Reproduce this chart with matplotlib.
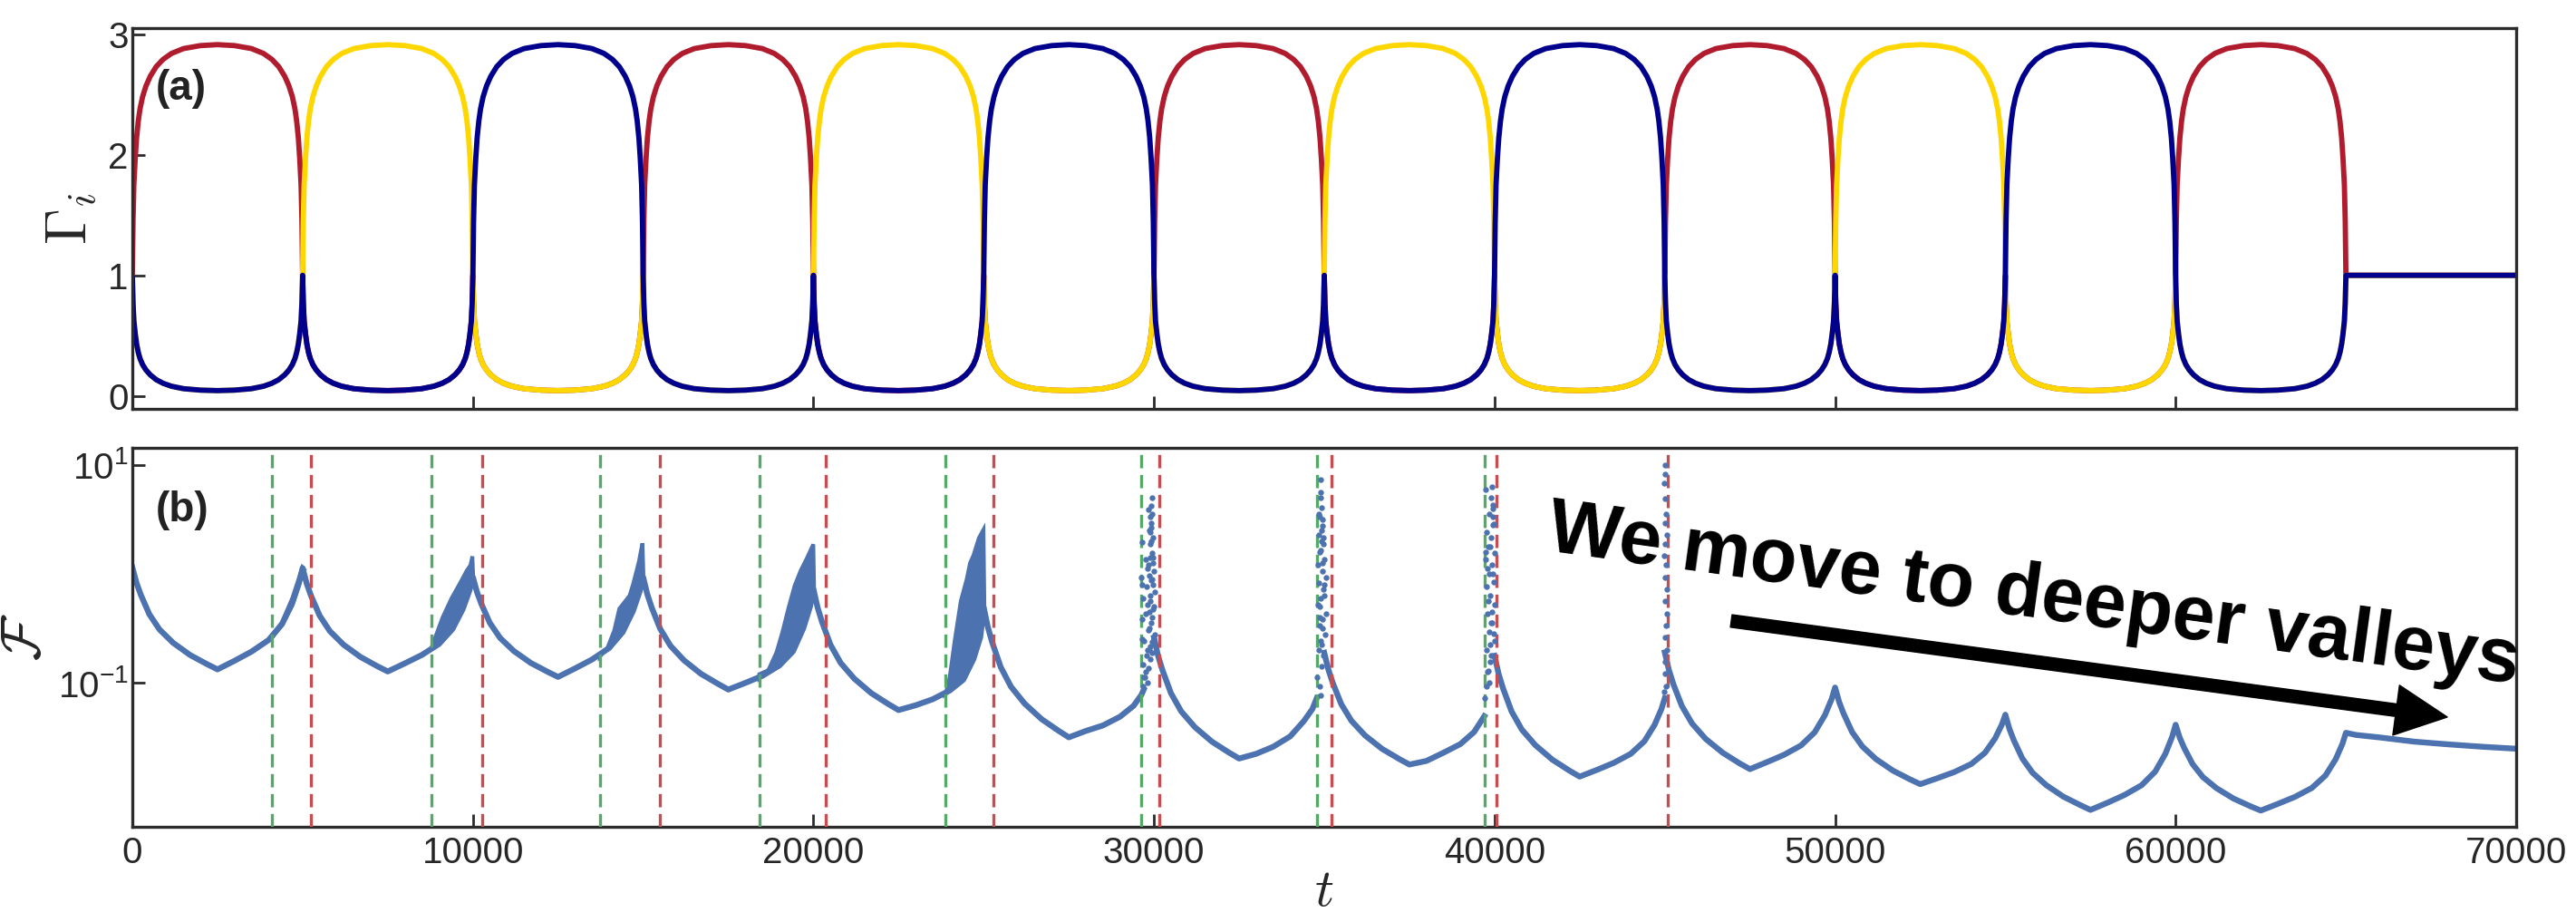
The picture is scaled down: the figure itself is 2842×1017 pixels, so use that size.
import numpy as np
import matplotlib
matplotlib.use("Agg")
import matplotlib.pyplot as plt

plt.rcParams['font.family'] = ['Liberation Sans', 'DejaVu Sans']
plt.rcParams['mathtext.fontset'] = 'cm'

INK = '#262626'

# ---------------- panel (a): Gamma_i during one switching period ----------------
PERIOD = 5000
phase = [0, 0.004, 0.009, 0.017, 0.025, 0.035, 0.045, 0.06, 0.08, 0.105, 0.14, 0.18,
         0.23, 0.3, 0.4, 0.5, 0.6, 0.7, 0.77, 0.82, 0.86, 0.895, 0.92, 0.94, 0.955,
         0.965, 0.975, 0.983, 0.991, 0.996, 1.0]
gamma_high = [1.0, 1.45, 1.75, 1.97, 2.14, 2.28, 2.38, 2.48, 2.57, 2.65, 2.73, 2.79,
              2.84, 2.88, 2.905, 2.913, 2.905, 2.88, 2.84, 2.79, 2.73, 2.65, 2.57, 2.48,
              2.38, 2.28, 2.14, 1.97, 1.75, 1.45, 1.0]
gamma_low = [1.0, 0.77, 0.62, 0.515, 0.43, 0.36, 0.31, 0.26, 0.215, 0.175, 0.135, 0.105,
             0.08, 0.06, 0.048, 0.044, 0.048, 0.06, 0.08, 0.105, 0.135, 0.175, 0.215, 0.26,
             0.31, 0.36, 0.43, 0.515, 0.62, 0.77, 1.0]
# which component is high in each period (0-65000)
high_component = ['red', 'yellow', 'blue'] * 4 + ['red']
t_settled = [65000, 70000]
gamma_settled = [1.0, 1.0]
gamma_colors = {'red': '#B01C2E', 'yellow': '#FFD700', 'blue': '#00008C'}

# ---------------- panel (b): F(t), log10 values ----------------
desc_dt = [0, 120, 250, 500, 800, 1200, 1700, 2200, 2500]
desc_log10F = [
    [0.06, -0.080, -0.193, -0.371, -0.511, -0.633, -0.745, -0.829, -0.876],
    [0.053, -0.089, -0.203, -0.383, -0.525, -0.649, -0.762, -0.848, -0.895],
    [-0.03, -0.167, -0.277, -0.451, -0.588, -0.707, -0.817, -0.899, -0.945],
    [-0.03, -0.185, -0.308, -0.504, -0.659, -0.793, -0.917, -1.009, -1.061],
    [-0.14, -0.306, -0.439, -0.650, -0.817, -0.961, -1.094, -1.194, -1.249],
    [-0.307, -0.486, -0.629, -0.855, -1.034, -1.189, -1.332, -1.439, -1.499],
    [-0.585, -0.751, -0.884, -1.095, -1.261, -1.405, -1.538, -1.638, -1.693],
    [-0.723, -0.877, -1.000, -1.195, -1.348, -1.482, -1.605, -1.697, -1.748],
    [-0.751, -0.917, -1.050, -1.261, -1.427, -1.571, -1.704, -1.804, -1.859],
    [-0.720, -0.881, -1.010, -1.211, -1.372, -1.513, -1.640, -1.738, -1.790],
    [-1.042, -1.175, -1.281, -1.450, -1.582, -1.698, -1.804, -1.884, -1.928],
    [-1.291, -1.422, -1.527, -1.693, -1.824, -1.937, -2.042, -2.120, -2.164],
    [-1.383, -1.501, -1.595, -1.745, -1.863, -1.965, -2.060, -2.131, -2.170],
]
std_rise = [0, 500, 1000, 1500, 1900, 2200, 2400, 2500]
rise_dt = [std_rise] * 5 + [
    [0, 500, 1000, 1500, 1900, 2130, 2200],
    [0, 500, 1000, 1500, 1900, 2150, 2280],
    [0, 500, 1000, 1500, 1900, 2200],
] + [std_rise] * 5
rise_log10F = [
    [-0.876, -0.797, -0.713, -0.607, -0.458, -0.263, -0.077, 0.053],
    [-0.895, -0.821, -0.744, -0.644, -0.506, -0.324, -0.151, -0.03],
    [-0.945, -0.867, -0.785, -0.680, -0.533, -0.341, -0.158, -0.03],
    [-1.061, -1.000, -0.935, -0.840, -0.710, -0.500, -0.300, -0.14],
    [-1.249, -1.205, -1.150, -1.070, -0.970, -0.780, -0.580, -0.307],
    [-1.499, -1.440, -1.390, -1.310, -1.210, -1.110, -1.060],
    [-1.693, -1.650, -1.585, -1.490, -1.350, -1.240, -1.139],
    [-1.748, -1.715, -1.640, -1.560, -1.450, -1.305],
    [-1.859, -1.798, -1.733, -1.650, -1.535, -1.384, -1.240, -1.139],
    [-1.790, -1.726, -1.659, -1.573, -1.453, -1.296, -1.147, -1.042],
    [-1.928, -1.874, -1.817, -1.743, -1.641, -1.508, -1.380, -1.291],
    [-2.164, -2.098, -2.027, -1.938, -1.813, -1.649, -1.492, -1.383],
    [-2.170, -2.109, -2.045, -1.963, -1.849, -1.699, -1.557, -1.457],
]
broken_after_rise = [5, 6, 7, 8]
tail_t = [65000, 65300, 66000, 67000, 68000, 69000, 70000]
tail_log10F = [-1.457, -1.477, -1.500, -1.538, -1.563, -1.585, -1.603]

# noisy bands just before the cusps (upper edge, lower edge)
band_upper = [
    ([4100, 4400, 4700, 4900, 4990, 5010], [-0.585, -0.44, -0.22, -0.03, 0.06, 0.053]),
    ([8780, 8850, 9110, 9380, 9650, 9820, 9930, 9985, 10010],
     [-0.68, -0.62, -0.40, -0.22, -0.07, 0.03, 0.08, 0.16, -0.03]),
    ([13726, 13950, 14150, 14300, 14450, 14600, 14700, 14800, 14880, 14940, 14980, 15010],
     [-0.76, -0.68, -0.52, -0.32, -0.26, -0.20, -0.10, 0.02, 0.12, 0.22, 0.28, -0.03]),
    ([18410, 18650, 18915, 19093, 19270, 19447, 19625, 19802, 19935, 19997, 20020],
     [-0.96, -0.90, -0.72, -0.53, -0.31, -0.11, 0.03, 0.14, 0.23, 0.27, -0.14]),
    ([23883, 24000, 24150, 24327, 24500, 24600, 24700, 24860, 24993, 25020],
     [-1.10, -0.95, -0.61, -0.25, -0.05, 0.10, 0.17, 0.33, 0.405, -0.307]),
]
band_lower = [
    ([4100, 4400, 4700, 4900, 5000], [-0.585, -0.470, -0.290, -0.100, 0.053]),
    ([8780, 9000, 9400, 9700, 9900, 10000], [-0.688, -0.644, -0.506, -0.324, -0.151, -0.03]),
    ([13726, 14000, 14400, 14700, 14900, 15000], [-0.74, -0.680, -0.533, -0.341, -0.158, -0.03]),
    ([18410, 19000, 19400, 19700, 19900, 20000], [-0.92, -0.84, -0.71, -0.50, -0.30, -0.14]),
    ([23883, 24400, 24700, 24900, 25000], [-1.10, -0.97, -0.78, -0.58, -0.307]),
]

# scattered points around the later cusps
dots_t = [
    # near t = 30000
    29952, 29845, 29890, 29925, 29899, 29650, 29978, 29881, 29943, 29757, 29845, 30005,
    29632, 29917, 29792, 30032, 29685, 29881, 29978, 29757, 29650, 29917, 29828, 30014,
    29703, 29899, 29783, 29943, 29668, 29845, 29739, 29677, 29810, 29960, 29870, 29800,
    29930, 29905, 29990, 29860,
    29860, 29910, 29940, 29880, 29965, 29900, 29935, 29870, 29990, 29955, 29890, 29820,
    29760, 29700, 29640, 29660, 29920, 29975, 29850, 29800,
    # near t = 35000
    34885, 34902, 34929, 34867, 34956, 34840, 34973, 34885, 35009, 34813, 34938, 35044,
    34849, 34973, 34902, 34823, 35062, 34938, 34858, 35018, 34902, 34831, 34973, 34867,
    34885, 34920, 34990, 34950, 34870,
    34900, 34920, 34950, 34880, 34960, 34910, 34860, 34990, 34930, 34800, 34845, 34970,
    # near t = 40000
    39924, 39959, 39747, 39853, 39986, 39764, 39897, 39809, 40013, 39729, 39924, 39835,
    39977, 39764, 39871, 39995, 39800, 39924, 39853, 39995, 39764, 39906, 39817, 39764,
    39711, 39871, 39940, 39880, 39780,
    39900, 39940, 39870, 39960, 39830, 39900, 39990, 39780, 39850, 39920, 39960, 39740,
    # near t = 45000
    44999, 45017, 44981, 44999, 45035, 44999, 45052, 45017, 44981, 45035, 45017, 45052,
    44999, 45070, 45035, 44999, 45052, 45017, 44999, 45035, 44981,
]
dots_log10F = [
    0.695, 0.593, 0.524, 0.463, 0.385, 0.288, 0.330, 0.274, 0.191, 0.136, 0.080, 0.025,
    -0.030, -0.058, -0.114, -0.169, -0.224, -0.252, -0.321, -0.363, -0.418, -0.446, -0.515, -0.557,
    -0.612, -0.668, -0.751, -0.723, -0.834, -0.862, -0.945, -1.028, -1.000, 0.10, -0.35, -0.28,
    -0.05, 0.42, -0.60, -0.70,
    0.40, 0.30, 0.55, 0.15, -0.10, -0.20, -0.40, -0.50, -0.30, -0.62, -0.78, -0.70,
    -0.90, -0.95, -0.60, -0.10, 0.62, 0.15, -0.02, 0.05,
    0.862, 0.695, 0.607, 0.524, 0.440, 0.357, 0.274, 0.219, 0.136, 0.080, 0.025, -0.030,
    -0.086, -0.141, -0.224, -0.280, -0.363, -0.418, -0.474, -0.557, -0.612, -0.696, -0.751, -1.028,
    -1.110, 0.30, -0.20, 0.50, -0.40,
    0.75, 0.40, 0.10, -0.30, -0.50, -0.65, 0.20, -0.10, -0.85, -0.95, 0.55, 0.33,
    0.801, 0.635, 0.773, 0.551, 0.454, 0.385, 0.330, 0.247, 0.191, 0.136, 0.080, -0.003,
    -0.072, -0.114, -0.197, -0.280, -0.363, -0.446, -0.529, -0.612, -0.696, -0.751, -0.889, -1.028,
    -1.139, -0.806, 0.52, -0.65, 0.05,
    0.70, 0.45, 0.25, 0.00, -0.25, -0.45, -0.55, -0.90, -1.00, -0.35, 0.60, 0.20,
    0.995, 0.912, 0.829, 0.690, 0.551, 0.468, 0.357, 0.274, 0.163, 0.080, -0.030, -0.141,
    -0.252, -0.363, -0.474, -0.585, -0.696, -0.806, -0.917, -1.028, -1.083,
]

green_t = [4110, 8780, 13730, 18410, 23880, 29630, 34780, 39700]
red_t = [5240, 10270, 15480, 20350, 25280, 30150, 35200, 40050, 45090]

# ---------------- figure ----------------
fig = plt.figure(figsize=(28.42, 10.17), dpi=100)
W, H = 2842.0, 1017.0
ax1 = fig.add_axes([146 / W, 1 - 451 / H, 2630 / W, 420 / H])
ax2 = fig.add_axes([146 / W, 1 - 912 / H, 2630 / W, 418 / H])

# panel (a)
for comp in ['red', 'yellow', 'blue']:
    ts, gs = [], []
    for k, owner in enumerate(high_component):
        ts.extend(k * PERIOD + PERIOD * np.asarray(phase))
        gs.extend(gamma_high if owner == comp else gamma_low)
    ts.extend(t_settled)
    gs.extend(gamma_settled)
    ax1.plot(ts, gs, color=gamma_colors[comp], lw=4.2, solid_capstyle='butt')

ax1.set_xlim(0, 70000)
ax1.set_ylim(-0.1075, 3.05)
ax1.set_yticks([0, 1, 2, 3])
ax1.set_xticks(np.arange(0, 70001, 10000))
ax1.set_xticklabels([])
ax1.set_ylabel(r'$\Gamma_i$', fontsize=46, color=INK)
ax1.yaxis.set_label_coords(-0.0135, 0.5)
ax1.text(0.0099, 0.84, '(a)', transform=ax1.transAxes, fontsize=33,
         fontweight='bold', va='center', ha='left', color='#222222')

# panel (b): main curve
line_t, line_v = [], []
for k in range(len(desc_log10F)):
    line_t.extend(k * PERIOD + np.asarray(desc_dt))
    line_v.extend(desc_log10F[k])
    line_t.extend(k * PERIOD + 2500 + np.asarray(rise_dt[k]))
    line_v.extend(rise_log10F[k])
    if k in broken_after_rise:
        line_t.append(np.nan)
        line_v.append(np.nan)
line_t.extend(tail_t)
line_v.extend(tail_log10F)
BLUE = '#4C72B0'
ax2.plot(line_t, 10 ** np.asarray(line_v), color=BLUE, lw=4.6, zorder=2)

for (tu, vu), (tl, vl) in zip(band_upper, band_lower):
    poly_t = list(tu) + list(tl)[::-1]
    poly_v = list(vu) + list(vl)[::-1]
    ax2.fill(poly_t, 10 ** np.asarray(poly_v), color=BLUE, lw=3.0, ec=BLUE, zorder=2)

for x in green_t:
    ax2.axvline(x, color='#55A868', lw=2.4, dashes=(4.4, 2.2), zorder=3)
for x in red_t:
    ax2.axvline(x, color='#C44E52', lw=2.4, dashes=(4.4, 2.2), zorder=3)

ax2.plot(dots_t, 10 ** np.asarray(dots_log10F), 'o', color=BLUE, ms=4.6, mew=0, zorder=4)

ax2.set_yscale('log')
ax2.set_xlim(0, 70000)
ax2.set_ylim(10 ** -2.319, 10 ** 1.155)
ax2.set_yticks([10, 0.1])
ax2.yaxis.set_minor_locator(matplotlib.ticker.NullLocator())
ax2.set_xticks(np.arange(0, 70001, 10000))
ax2.set_xticklabels([str(v) for v in range(0, 70001, 10000)])
ax2.set_ylabel(r'$\mathcal{F}$', fontsize=44, color=INK)
ax2.yaxis.set_label_coords(-0.034, 0.5)
ax2.set_xlabel(r'$t$', fontsize=42, color=INK, va='center')
ax2.xaxis.set_label_coords(0.5, -0.172)
ax2.text(0.0097, 0.836, '(b)', transform=ax2.transAxes, fontsize=33,
         fontweight='bold', va='center', ha='left', color='#222222')

ax2.text(41495, 10 ** 0.216, 'We move to deeper valleys', rotation=-7.8,
         rotation_mode='anchor', ha='left', va='baseline', fontsize=61,
         fontweight='bold', color='black', zorder=6)
ax2.annotate('', xy=(67978, 10 ** -1.313), xytext=(46951, 10 ** -0.432),
             arrowprops=dict(width=10, headwidth=40, headlength=41, color='black',
                             shrink=0), zorder=6)

for ax in (ax1, ax2):
    for sp in ax.spines.values():
        sp.set_linewidth(2.4)
        sp.set_color('#2b2b2b')
    ax.tick_params(direction='in', length=10, width=2, color='#2b2b2b',
                   labelsize=29, labelcolor=INK, top=False, right=False)
ax1.tick_params(axis='y', pad=3)
ax2.tick_params(axis='y', pad=3)
ax2.tick_params(axis='x', pad=7)

fig.savefig('out.png', dpi=100)
